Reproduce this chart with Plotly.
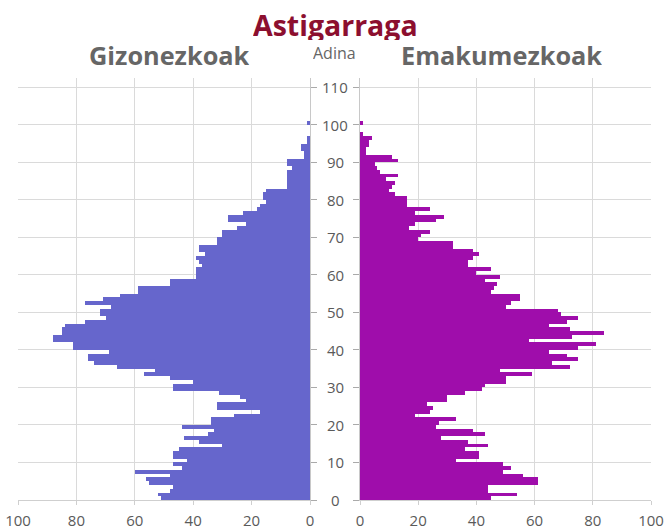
import plotly.graph_objects as go

ages = list(range(0, 101))

men = [51, 52, 48, 47, 55, 56, 48, 60, 44, 47,
       42, 47, 47, 45, 30, 38, 43, 35, 33, 44,
       34, 34, 26, 17, 32, 32, 22, 24, 31, 47,
       47, 40, 48, 57, 53, 66, 74, 76, 76, 69,
       81, 81, 88, 88, 85, 85, 84, 77, 70, 72,
       72, 68, 77, 71, 65, 59, 59, 48, 48, 39,
       39, 39, 37, 38, 39, 36, 38, 38, 32, 32,
       30, 30, 25, 22, 28, 28, 23, 18, 17, 15,
       16, 16, 15, 8, 8, 8, 8, 8, 6, 8,
       8, 2, 2, 3, 3, 1, 1, 0, 0, 0,
       1]

women = [45, 54, 44, 44, 61, 61, 56, 49, 52, 49,
         33, 41, 41, 36, 44, 37, 28, 43, 39, 26,
         27, 33, 19, 24, 25, 23, 30, 30, 36, 42,
         43, 50, 50, 59, 48, 72, 66, 75, 71, 65,
         75, 81, 58, 73, 84, 72, 65, 71, 75, 69,
         68, 50, 52, 55, 55, 45, 46, 47, 43, 48,
         40, 45, 37, 37, 39, 41, 39, 32, 32, 20,
         21, 24, 17, 19, 26, 29, 19, 24, 16, 16,
         16, 12, 10, 11, 12, 9, 13, 7, 6, 5,
         13, 11, 2, 2, 3, 3, 4, 1, 0, 0,
         1]

x_ticks = [0, 20, 40, 60, 80, 100]
age_ticks = list(range(0, 111, 10))

title = "Astigarraga"
men_label = "Gizonezkoak"
women_label = "Emakumezkoak"
age_label = "Adina"

men_color = "#6666CC"
women_color = "#9F0DAB"
grid = "#dadada"
FONT = "Open Sans, sans-serif"
tickfont = dict(family=FONT, size=15, color="#5a5a5a")

W, H = 666, 529


def px(X):
    return X / W


def py(Y):
    return (H - Y) / H


ypos = [a + 0.5 for a in ages]

fig = go.Figure()
fig.add_trace(go.Bar(x=men, y=ypos, orientation="h", marker=dict(color=men_color, line=dict(width=0)),
                     xaxis="x", yaxis="y", name=men_label, showlegend=False))
fig.add_trace(go.Bar(x=women, y=ypos, orientation="h", marker=dict(color=women_color, line=dict(width=0)),
                     xaxis="x2", yaxis="y2", name=women_label, showlegend=False))

xcommon = dict(tickvals=x_ticks, showgrid=True, gridcolor=grid, gridwidth=1, zeroline=False,
               showline=True, linecolor="#cfcfcf", linewidth=1, ticks="outside", ticklen=4,
               tickcolor="#cfcfcf", tickfont=tickfont, ticklabelstandoff=3, fixedrange=True,
               automargin=False, ticklabeloverflow="allow")
ycommon = dict(range=[0, 112.5], tickvals=age_ticks, showticklabels=False, showgrid=True,
               gridcolor=grid, gridwidth=1, zeroline=False, showline=True, linecolor="#c8c8c8",
               linewidth=1, ticks="outside", ticklen=6, tickcolor="#aaaaaa", automargin=False,
               domain=[py(500), py(78)])

fig.update_layout(
    template="none",
    width=W, height=H,
    margin=dict(l=0, r=0, t=0, b=0, autoexpand=False),
    paper_bgcolor="white", plot_bgcolor="white",
    bargap=0,
    xaxis=dict(domain=[px(18), px(310)], range=[100, 0], anchor="y", **xcommon),
    xaxis2=dict(domain=[px(360), px(651)], range=[0, 100], anchor="y2", **xcommon),
    yaxis=dict(anchor="x", side="right", **ycommon),
    yaxis2=dict(anchor="x2", side="left", **ycommon),
)

ann = []
for t in age_ticks:
    ann.append(dict(x=px(335), xref="paper", y=t, yref="y", text=str(t), showarrow=False,
                    xanchor="center", yanchor="middle", font=tickfont))
ann.append(dict(x=px(335), xref="paper", y=py(25), yref="paper", text="<b>%s</b>" % title,
                showarrow=False, xanchor="center", yanchor="middle", height=30,
                font=dict(family=FONT, size=28.5, color="#8C0F2F")))
ann.append(dict(x=px(169), xref="paper", y=py(55), yref="paper", text="<b>%s</b>" % men_label,
                showarrow=False, xanchor="center", yanchor="middle", height=30,
                font=dict(family=FONT, size=25.3, color="#666666")))
ann.append(dict(x=px(501), xref="paper", y=py(55), yref="paper", text="<b>%s</b>" % women_label,
                showarrow=False, xanchor="center", yanchor="middle", height=30,
                font=dict(family=FONT, size=25.3, color="#666666")))
ann.append(dict(x=px(334), xref="paper", y=py(53), yref="paper", text=age_label,
                showarrow=False, xanchor="center", yanchor="middle", height=18,
                font=dict(family=FONT, size=16, color="#666666")))
fig.update_layout(annotations=ann)

fig.write_html("out.html", config={"displayModeBar": False},
               post_script="document.body.style.margin='0';document.body.style.overflow='hidden';")
